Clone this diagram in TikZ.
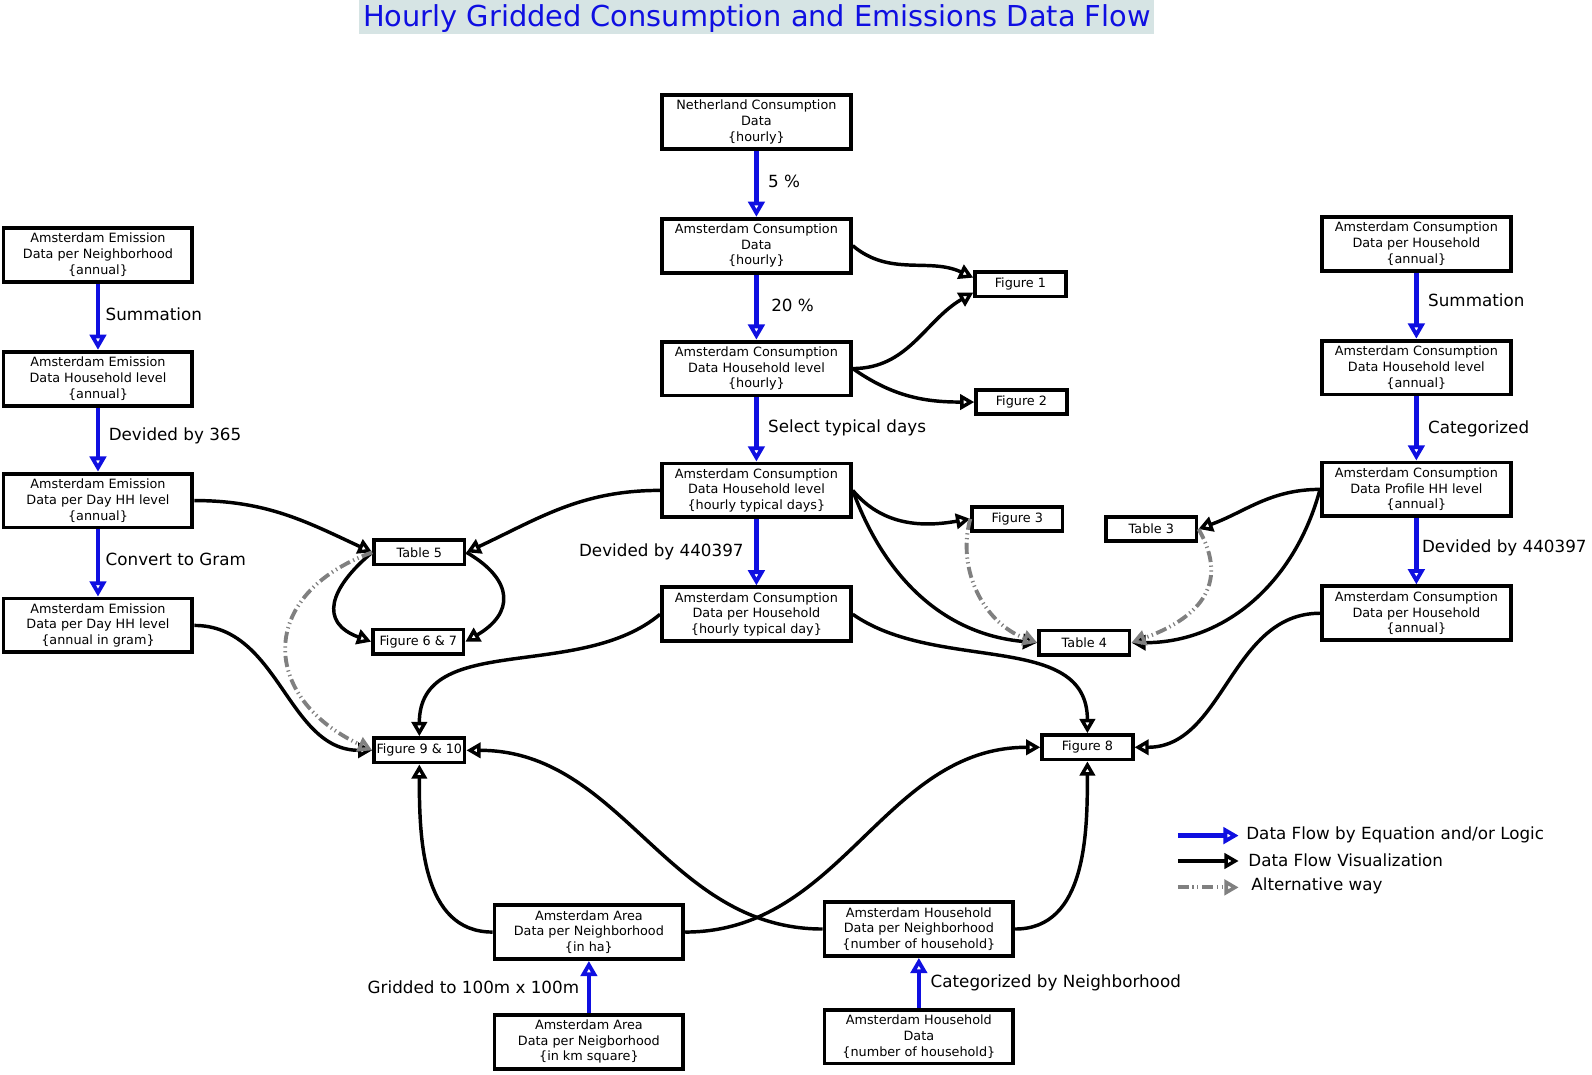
\documentclass[tikz,border=0pt]{standalone}
\usepackage{fontspec}
\setmainfont{DejaVu Sans}
\usepackage{tikz}
\usetikzlibrary{arrows.meta}
\definecolor{flowblue}{RGB}{15,15,225}
\definecolor{altgray}{RGB}{128,128,128}
\definecolor{titleback}{RGB}{214,228,228}
\newcommand{\DATA}[3]{ %&%
  #1\\#2\\\{#3\}       %&%
}
\newcommand{\BOXFONT}{\fontsize{12.6}{15.5}\selectfont}
\newcommand{\LBLFONT}{\fontsize{16.5}{19}\selectfont}

\begin{document}
\begin{tikzpicture}[x=1pt,y=1pt,
  data/.style={draw,line width=3.8pt,minimum width=186pt,minimum height=53pt,inner sep=0pt,align=center,font=\BOXFONT},
  result/.style={draw,line width=3.8pt,minimum width=89pt,minimum height=24pt,inner sep=0pt,font=\BOXFONT},
  flow/.style={draw=flowblue,line width=4.6pt,-{Triangle[open,length=15pt,width=16pt]}},
  viz/.style={line width=3.4pt,-{Triangle[open,length=14pt,width=15pt]}},
  alt/.style={draw=altgray,line width=3.8pt,dash pattern=on 11pt off 3.5pt on 1.2pt off 3.5pt on 1.2pt off 3.5pt,-{Triangle[open,length=14pt,width=15pt]}},
  lbl/.style={font=\LBLFONT}]
  \useasboundingbox (0,0) rectangle (1568,-1058);

  \node (title) at (745.5,-16.5) [fill=titleback,text=flowblue,inner sep=0pt,minimum width=783pt,minimum height=33pt,text height=24pt,text depth=5pt,font=\fontsize{28.4}{30}\selectfont] {Hourly Gridded Consumption and Emissions Data Flow};

  \node (E1) at (96.5,-251) [data] {\DATA{Amsterdam Emission}{Data per Neighborhood}{annual}};
  \node (E2) at (96.5,-373) [data] {\DATA{Amsterdam Emission}{Data Household level}{annual}};
  \node (E3) at (96.5,-493) [data] {\DATA{Amsterdam Emission}{Data per Day HH level}{annual}};
  \node (E4) at (96.5,-616) [data] {\DATA{Amsterdam Emission}{Data per Day HH level}{annual in gram}};

  \node (C1) at (745,-120) [data] {\DATA{Netherland Consumption}{Data}{hourly}};
  \node (C2) at (745,-242) [data] {\DATA{Amsterdam Consumption}{Data}{hourly}};
  \node (C3) at (745,-363) [data] {\DATA{Amsterdam Consumption}{Data Household level}{hourly}};
  \node (C4) at (745,-483) [data] {\DATA{Amsterdam Consumption}{Data Household level}{hourly typical days}};
  \node (C5) at (745,-605) [data] {\DATA{Amsterdam Consumption}{Data per Household}{hourly typical day}};

  \node (R1) at (1395,-240) [data] {\DATA{Amsterdam Consumption}{Data per Household}{annual}};
  \node (R2) at (1395,-362) [data] {\DATA{Amsterdam Consumption}{Data Household level}{annual}};
  \node (R3) at (1395,-482) [data] {\DATA{Amsterdam Consumption}{Data Profile HH level}{annual}};
  \node (R4) at (1395,-604) [data] {\DATA{Amsterdam Consumption}{Data per Household}{annual}};

  \node (A1) at (580,-918) [data] {\DATA{Amsterdam Area}{Data per Neighborhood}{in ha}};
  \node (A0) at (580,-1026) [data] {\DATA{Amsterdam Area}{Data per Neigborhood}{in km square}};
  \node (H1) at (905,-915) [data] {\DATA{Amsterdam Household}{Data per Neighborhood}{number of household}};
  \node (H0) at (905,-1021) [data] {\DATA{Amsterdam Household}{Data}{number of household}};

  \node (fig1) at (1005,-280) [result] {Figure 1};
  \node (fig2) at (1006,-396) [result] {Figure 2};
  \node (fig3) at (1002,-511) [result] {Figure 3};
  \node (tab3) at (1134,-521) [result] {Table 3};
  \node (tab4) at (1068,-633) [result] {Table 4};
  \node (tab5) at (413,-544) [result] {Table 5};
  \node (fig67) at (412,-632) [result] {Figure 6 \& 7};
  \node (fig8) at (1071,-736) [result] {Figure 8};
  \node (fig910) at (413,-739) [result] {Figure 9 \& 10};

  \draw [flow] (E1.south) -- (E2.north) node [midway,right,lbl,xshift=2pt,yshift=2pt] {Summation};
  \draw [flow] (E2.south) -- (E3.north) node [midway,right,lbl,xshift=5pt,yshift=4pt] {Devided by 365};
  \draw [flow] (E3.south) -- (E4.north) node [midway,right,lbl,xshift=2pt,yshift=4pt] {Convert to Gram};
  \draw [flow] (C1.south) -- (C2.north) node [midway,right,lbl,xshift=6pt,yshift=2pt] {5 \%};
  \draw [flow] (C2.south) -- (C3.north) node [midway,right,lbl,xshift=9pt,yshift=2pt] {20 \%};
  \draw [flow] (C3.south) -- (C4.north) node [midway,right,lbl,xshift=6pt,yshift=2pt] {Select typical days};
  \draw [flow] (C4.south) -- (C5.north) node [midway,left,lbl,xshift=-7pt] {Devided by 440397};
  \draw [flow] (R1.south) -- (R2.north) node [midway,right,lbl,xshift=6pt,yshift=5pt] {Summation};
  \draw [flow] (R2.south) -- (R3.north) node [midway,right,lbl,xshift=6pt] {Categorized};
  \draw [flow] (R3.south) -- (R4.north) node [midway,right,lbl,yshift=3pt] {Devided by 440397};
  \draw [flow] (A0.north) -- (A1.south) node [midway,left,lbl,xshift=-4pt] {Gridded to 100m x 100m};
  \draw [flow] (H0.north) -- (H1.south) node [midway,right,lbl,xshift=6pt] {Categorized by Neighborhood};

  \draw [viz] (C2.east) to [out=-40,in=155] (fig1.172);
  \draw [viz] (C3.east) to [out=0,in=210] (fig1.190);
  \draw [viz] (C3.east) to [out=-35,in=180] (fig2.west);
  \draw [viz] (C4.east) to [out=-50,in=190] (fig3.west);
  \draw [viz] (C4.east) to [out=-70,in=175] (tab4.west);
  \draw [viz] (C4.west) to [out=180,in=25] (tab5.east);
  \draw [viz] (E3.east) to [out=0,in=155] (tab5.west);
  \draw [viz] (tab5.west) to [out=220,in=160,looseness=1.6] (fig67.west);
  \draw [viz] (tab5.east) to [out=-30,in=30,looseness=1.6] (fig67.east);
  \draw [viz] (E4.east) to [out=0,in=180] (fig910.west);
  \draw [viz] (C5.west) to [out=-140,in=90] (fig910.north);
  \draw [viz] (C5.east) to [out=-35,in=90] (fig8.north);
  \draw [viz] (R4.west) to [out=180,in=0] (fig8.east);
  \draw [viz] (R3.west) to [out=180,in=20] (tab3.east);
  \draw [viz] (R3.west) to [out=-105,in=0] (tab4.east);
  \draw [viz] (A1.west) to [out=180,in=-90] (fig910.south);
  \draw [viz] (A1.east) to [out=0,in=180] (fig8.west);
  \draw [viz] (H1.west) to [out=180,in=0] (fig910.east);
  \draw [viz] (H1.east) to [out=0,in=-90] (fig8.south);

  \draw [alt] (tab5.west) to [out=200,in=155,looseness=1.6] (fig910.west);
  \draw [alt] (fig3.west) to [out=-105,in=160] (tab4.west);
  \draw [alt] (tab3.east) to [out=-60,in=20,looseness=1.3] (tab4.east);

  \coordinate (k1a) at (1160,-823);
  \coordinate (k1b) at (1220,-823);
  \coordinate (k2a) at (1160,-848);
  \coordinate (k2b) at (1220,-848);
  \coordinate (k3a) at (1160,-874);
  \coordinate (k3b) at (1220,-874);
  \draw [flow] (k1a) -- (k1b);
  \draw [viz] (k2a) -- (k2b);
  \draw [alt] (k3a) -- (k3b);
  \node (k1) at (1224,-822) [anchor=west,lbl] {Data Flow by Equation and/or Logic};
  \node (k2) at (1226,-847) [anchor=west,lbl] {Data Flow Visualization};
  \node (k3) at (1229,-873) [anchor=west,lbl] {Alternative way};
\end{tikzpicture}
\end{document}
